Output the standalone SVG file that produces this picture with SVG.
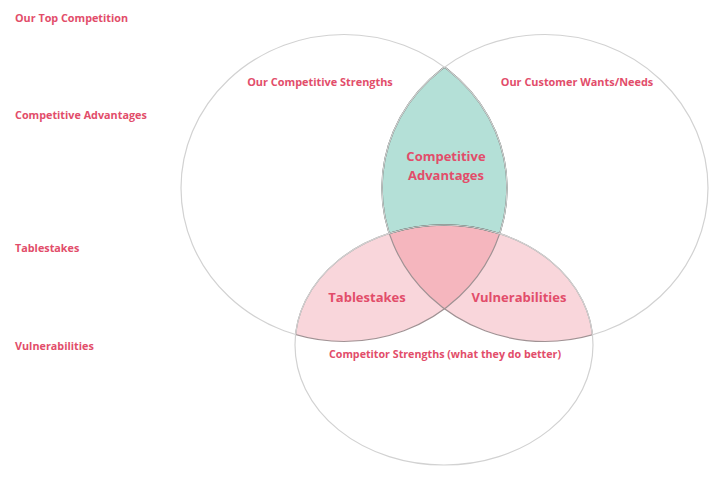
<svg xmlns="http://www.w3.org/2000/svg" width="720" height="480" viewBox="0 0 720 480">
<style>
  text { font-family: "Open Sans", "Liberation Sans", sans-serif; font-weight: 700; fill: #e24d6a; }
  .side { font-size: 10.8px; }
  .clabel { font-size: 10.9px; text-anchor: middle; }
  .big { font-size: 13px; text-anchor: middle; }
  .outline { fill: none; stroke: #d2d2d2; stroke-width: 1.2; }
  .dark { fill: none; stroke: #4e625c; stroke-width: 1.4; }
  .mid { fill: none; stroke: #a09294; stroke-width: 1.2; }
</style>
<defs>
  <clipPath id="cL"><ellipse cx="344" cy="188" rx="163" ry="153.5"/></clipPath>
  <clipPath id="cR"><ellipse cx="545" cy="188" rx="163" ry="153.5"/></clipPath>
  <clipPath id="cB"><ellipse cx="444" cy="345" rx="149" ry="120"/></clipPath>
  <mask id="notB">
    <rect x="0" y="0" width="720" height="480" fill="#fff"/>
    <ellipse cx="444" cy="345" rx="149" ry="120" fill="#000"/>
  </mask>
</defs>
<rect width="720" height="480" fill="#ffffff"/>

<g id="side-labels">
  <text class="side" x="15" y="22">Our Top Competition</text>
  <text class="side" x="15" y="119">Competitive Advantages</text>
  <text class="side" x="15" y="252">Tablestakes</text>
  <text class="side" x="15" y="350">Vulnerabilities</text>
</g>

<g id="fills">
  <g clip-path="url(#cL)"><ellipse cx="545" cy="188" rx="163" ry="153.5" fill="#b4e0d7"/></g>
  <g clip-path="url(#cL)"><ellipse cx="444" cy="345" rx="149" ry="120" fill="#f9d6db"/></g>
  <g clip-path="url(#cR)"><ellipse cx="444" cy="345" rx="149" ry="120" fill="#f9d6db"/></g>
  <g clip-path="url(#cL)"><g clip-path="url(#cR)"><ellipse cx="444" cy="345" rx="149" ry="120" fill="#f5b6be"/></g></g>
</g>

<g id="connectors">
  <g mask="url(#notB)">
    <g clip-path="url(#cR)"><ellipse class="dark" cx="344" cy="188" rx="163" ry="153.5"/></g>
    <g clip-path="url(#cL)"><ellipse class="dark" cx="545" cy="188" rx="163" ry="153.5"/></g>
  </g>
  <g clip-path="url(#cB)">
    <ellipse class="mid" cx="344" cy="188" rx="163" ry="153.5"/>
    <ellipse class="mid" cx="545" cy="188" rx="163" ry="153.5"/>
  </g>
  <g clip-path="url(#cL)"><ellipse class="mid" cx="444" cy="345" rx="149" ry="120"/></g>
  <g clip-path="url(#cR)"><ellipse class="mid" cx="444" cy="345" rx="149" ry="120"/></g>
  <g clip-path="url(#cL)"><g clip-path="url(#cR)"><ellipse class="dark" cx="444" cy="345" rx="149" ry="120"/></g></g>
</g>

<g id="circle-strengths">
  <ellipse class="outline" cx="344" cy="188" rx="163" ry="153.5" mask="url(#notB)"/>
  <text class="clabel" x="320" y="86">Our Competitive Strengths</text>
</g>
<g id="circle-customer">
  <ellipse class="outline" cx="545" cy="188" rx="163" ry="153.5" mask="url(#notB)"/>
  <text class="clabel" x="577" y="86">Our Customer Wants/Needs</text>
</g>
<g id="circle-competitor">
  <ellipse class="outline" cx="444" cy="345" rx="149" ry="120"/>
  <text class="clabel" x="445" y="358" style="font-size:10.7px">Competitor Strengths (what they do better)</text>
</g>
<g id="region-advantages">
  <text class="big" x="446" y="161">Competitive</text>
  <text class="big" x="446" y="180">Advantages</text>
</g>
<g id="region-tablestakes">
  <text class="big" x="367" y="302">Tablestakes</text>
</g>
<g id="region-vulnerabilities">
  <text class="big" x="519" y="302">Vulnerabilities</text>
</g>
</svg>
